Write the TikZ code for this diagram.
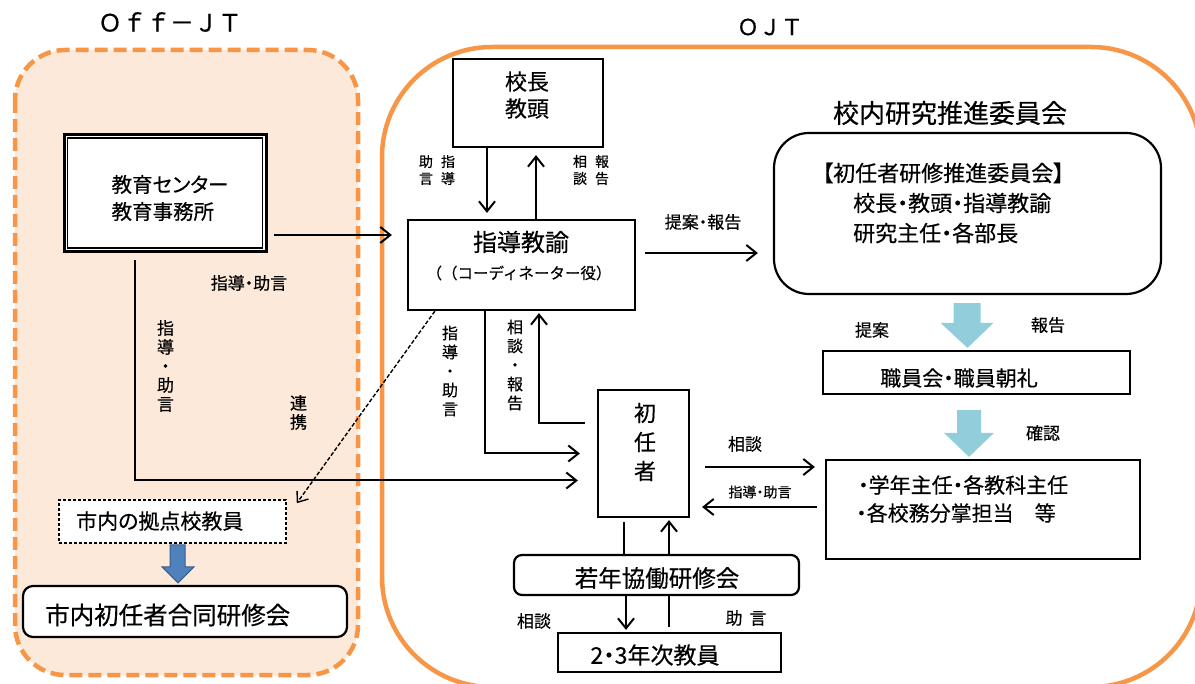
\documentclass[tikz,border=0pt]{standalone}
\usepackage{fontspec}
\setmainfont{Noto Sans CJK JP}[RawFeature=+palt,RawFeature={embolden=0.4}]
\newfontfamily\fw{Noto Sans CJK JP}[RawFeature={embolden=0.4}]
\usetikzlibrary{arrows.meta,calc}
\definecolor{ojt}{HTML}{F79646}
\definecolor{peach}{HTML}{FDE9D9}
\definecolor{lblue}{HTML}{92CDDC}
\definecolor{dblue}{HTML}{4F81BD}
\definecolor{dbline}{HTML}{385D8A}
\newcommand\fsz[2]{\fontsize{#1}{#2}\selectfont}
\begin{document}
\begin{tikzpicture}[x=1pt,y=-1pt,
  box/.style={draw,line width=2.2pt,fill=white,inner sep=0pt},
  txt/.style={inner sep=0pt},
  conn/.style={line width=2pt},
  arr/.style={line width=2pt,-{Straight Barb[length=10pt,width=16pt]}},
  lbl/.style={inner sep=0pt,font=\fsz{17}{19}},
  slbl/.style={inner sep=0pt,font=\fsz{14}{17}},
  vlbl/.style={inner sep=0pt,align=center,font=\fsz{16}{19}},
]
\useasboundingbox (0,0) rectangle (1195,684);
\begin{scope}
\clip (0,0) rectangle (1195,684);
\draw[ojt,line width=4.5pt,rounded corners=110pt] (382,47) rectangle (1201,687);
\end{scope}
\draw[ojt,line width=4.5pt,fill=peach,dash pattern=on 13pt off 6pt,rounded corners=50pt] (15,50) rectangle (358,675);

% titles
\node[txt] (offjt) at (170,22) {\fw\fsz{24}{24}Ｏｆｆ－ＪＴ};
\node[txt] (ojtl) at (770,27) {\fw\fsz{22}{22}ＯＪＴ};

% boxes
\node[box,line width=3pt,minimum width=202pt,minimum height=117pt] (ecc) at (165,193) {};
\draw[line width=1.3pt] ([xshift=5pt,yshift=5pt]ecc.south west) rectangle ([xshift=-5pt,yshift=-5pt]ecc.north east);
\node[txt,align=left,font=\fsz{20.5}{27}] (ecct) at (170,198) {教育センター\\教育事務所};

\node[box,minimum width=150pt,minimum height=88pt] (kocho) at (528,103) {};
\node[txt,align=center,font=\fsz{22}{27}] (kochot) at (527,95) {校長\\教頭};

\node[box,minimum width=227pt,minimum height=90pt] (shido) at (521.5,265) {};
\node[txt,font=\fsz{24}{24}] (shidot1) at (521,242) {指導教諭};
\node[txt,font=\fw\fsz{15.5}{16}] (shidot2) at (519,273) {（（コーディネーター役）};

\node[txt,font=\fsz{26}{26}] (iinl) at (950,113) {校内研究推進委員会};
\node[box,rounded corners=35pt,minimum width=387pt,minimum height=161pt] (iinkai) at (967.5,213.5) {};
\node[txt,anchor=west,font=\fsz{22}{22}] (iin1) at (822,173) {【初任者研修推進委員会】};
\node[txt,anchor=west,font=\fsz{22}{22}] (iin2) at (853,203) {校長・教頭・指導教諭};
\node[txt,anchor=west,font=\fsz{22}{22}] (iin3) at (853,233) {研究主任・各部長};

\node[box,minimum width=307pt,minimum height=43pt] (shokuin) at (976.5,372.5) {};
\node[txt,font=\fsz{21}{21}] (shokuint) at (959,378) {職員会・職員朝礼};

\node[box,minimum width=314pt,minimum height=99pt] (tanto) at (983,509.5) {};
\node[txt,anchor=west,font=\fsz{21}{21}] (tanto1) at (858,485) {・学年主任・各教科主任};
\node[txt,anchor=west,font=\fsz{21}{21}] (tanto2) at (856,513) {・各校務分掌担当　等};

\node[box,minimum width=91pt,minimum height=127pt] (shoninsha) at (643.5,453.5) {};
\node[txt,align=center,font=\fsz{22}{29}] (shoninshat) at (645,442) {初\\任\\者};

\node[box,rounded corners=8pt,minimum width=285pt,minimum height=40pt] (jakunen) at (656.5,575) {};
\node[txt,font=\fsz{23.5}{23}] (jakunent) at (657,578) {若年協働研修会};

\node[box,minimum width=223pt,minimum height=39pt] (nenji) at (669.5,652.5) {};
\node[txt,font=\fsz{23}{23}] (nenjit) at (655,655) {2・3年次教員};

\node[box,line width=1.6pt,dash pattern=on 3pt off 2pt,minimum width=227pt,minimum height=43pt] (kyoten) at (172.5,521.5) {};
\node[txt,anchor=west,font=\fsz{21}{21}] (kyotent) at (76,521) {市内の拠点校教員};

\node[box,rounded corners=10pt,minimum width=324pt,minimum height=51pt] (godo) at (185,611.5) {};
\node[txt,anchor=west,font=\fsz{24.5}{24}] (godot) at (45,615) {市内初任者合同研修会};

% block arrows
\fill[lblue] let \p1=(iinkai.south), \p2=(shokuin.north) in
 (\x1-14pt,\y1-8pt) -- (\x1+13pt,\y1-8pt) -- (\x1+13pt,\y2+27pt) -- (\x1+26pt,\y2+27pt)
 -- (\x1,\y2+2pt) -- (\x1-27pt,\y2+27pt) -- (\x1-14pt,\y2+27pt) -- cycle;
\fill[lblue] let \p1=(shokuin.south), \p2=(tanto.north) in
 (\x1-19.5pt,\y1-15pt) -- (\x1+4.5pt,\y1-15pt) -- (\x1+4.5pt,\y2+26pt) -- (\x1+17.5pt,\y2+26pt)
 -- (\x1-7.5pt,\y2+2pt) -- (\x1-32.5pt,\y2+26pt) -- (\x1-19.5pt,\y2+26pt) -- cycle;
\filldraw[fill=dblue,draw=dbline,line width=1pt] let \p1=(kyoten.south), \p2=(godo.north) in
 (\x1-2.5pt,\y1-1pt) -- (\x1+12.5pt,\y1-1pt) -- (\x1+12.5pt,\y2+18pt) -- (\x1+21.5pt,\y2+18pt)
 -- (\x1+5.5pt,\y2+2pt) -- (\x1-10.5pt,\y2+18pt) -- (\x1-2.5pt,\y2+18pt) -- cycle;

% connectors
\draw[arr] ([xshift=6pt,yshift=-42pt]ecc.east) -- ([xshift=-15pt,yshift=30pt]shido.west);
\draw[arr] ([xshift=-30pt,yshift=-7pt]ecc.south) |- ([xshift=-19pt,yshift=-27pt]shoninsha.west);
\draw[line width=1.4pt,dash pattern=on 4pt off 2pt,-{Straight Barb[length=9pt,width=14pt]}]
  ([xshift=28pt]shido.south west) -- ([xshift=10pt,yshift=-4pt]kyoten.north east);
\draw[arr] ([xshift=-41pt]kocho.south) -- ([xshift=-34.5pt,yshift=6pt]shido.north);
\draw[arr] ([xshift=14.5pt]shido.north) -- ([xshift=8pt,yshift=-7pt]kocho.south);
\draw[arr] ([xshift=9pt,yshift=12pt]shido.east) -- ([xshift=-15pt,yshift=-39.5pt]iinkai.west);
\draw[arr] ([xshift=-36.5pt]shido.south) |- ([xshift=-17pt]shoninsha.west);
\draw[arr] ([xshift=-12pt,yshift=30.5pt]shoninsha.west) -| ([xshift=17.5pt,yshift=-2pt]shido.south);
\draw[arr] ([xshift=15pt,yshift=-13.5pt]shoninsha.east) -- ([xshift=-10pt,yshift=42.5pt]tanto.west);
\draw[arr] ([xshift=-8pt,yshift=2.5pt]tanto.west) -- ([xshift=12pt,yshift=-53.5pt]shoninsha.east);
\draw[conn] ([xshift=-19.5pt,yshift=-4pt]shoninsha.south) -- ([xshift=-32.5pt]jakunen.north);
\draw[arr] ([xshift=12.5pt]jakunen.north) -- ([xshift=25.5pt,yshift=-2pt]shoninsha.south);
\draw[arr] ([xshift=-30.5pt]jakunen.south) -- ([xshift=-43.5pt,yshift=2pt]nenji.north);
\draw[conn] ([xshift=-0.5pt,yshift=5pt]nenji.north) -- ([xshift=12.5pt]jakunen.south);

% labels
\node[lbl] (l1) at (249,283) {指導・助言};
\node[vlbl,font=\fsz{17}{19}] (l2) at (165.5,366) {指\\導\\・\\助\\言};
\node[vlbl,font=\fsz{17}{19}] (l3) at (298.5,412.5) {連\\携};
\node[slbl,align=center] (l4) at (437,170) {助\hspace{8pt}指\\言\hspace{8pt}導};
\node[slbl,align=center] (l5) at (591,170) {相\hspace{8pt}報\\談\hspace{8pt}告};
\node[lbl] (l6) at (703,222) {提案・報告};
\node[vlbl] (l7) at (450,371) {指\\導\\・\\助\\言};
\node[vlbl] (l8) at (515,365) {相\\談\\・\\報\\告};
\node[lbl] (l9) at (745,444) {相談};
\node[slbl] (l10) at (760,492) {指導・助言};
\node[lbl] (l11) at (534,621) {相談};
\node[lbl] (l12) at (746,618) {助\hspace{7pt}言};
\node[lbl] (l13) at (872,330) {提案};
\node[lbl] (l14) at (1048,325) {報告};
\node[lbl] (l15) at (1043,433) {確認};
\end{tikzpicture}
\end{document}
